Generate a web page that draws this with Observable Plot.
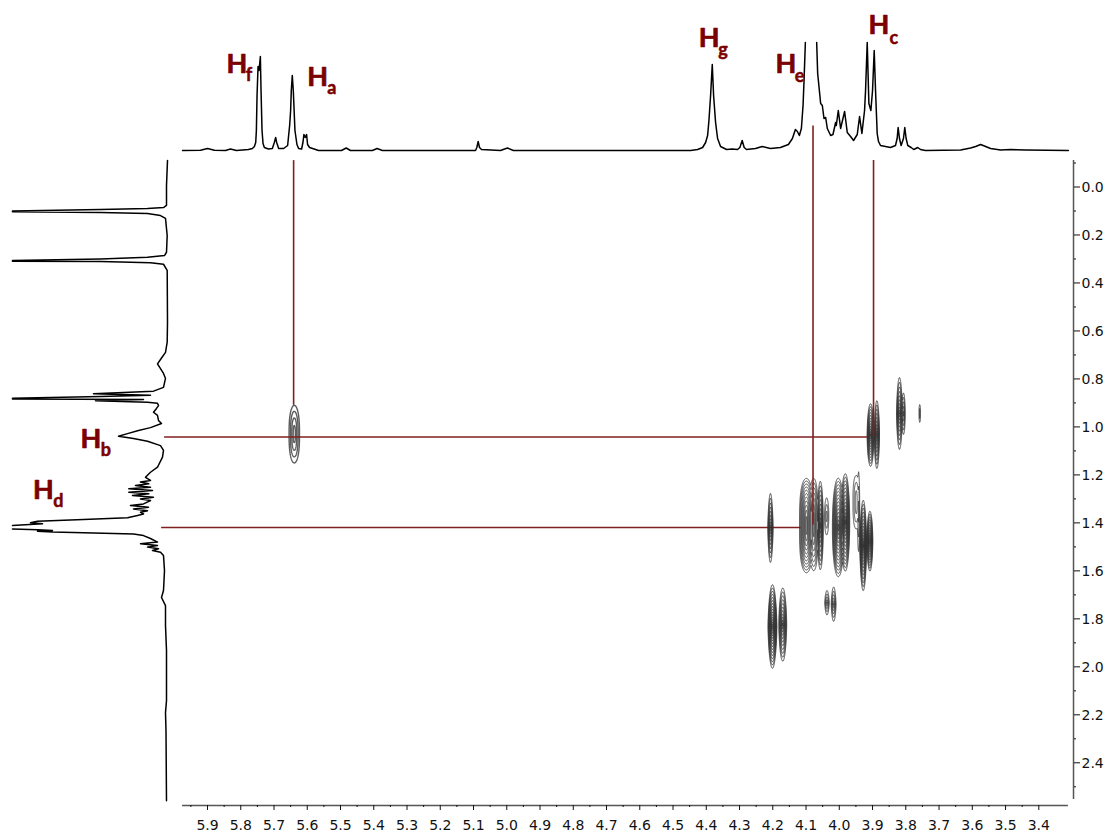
<!DOCTYPE html>
<html><head><meta charset="utf-8">
<script src="https://cdn.jsdelivr.net/npm/d3@7"></script>
<script src="https://cdn.jsdelivr.net/npm/@observablehq/plot@0.6"></script>
<style>html,body{margin:0;padding:0;background:#fff}svg{display:block}</style>
</head><body><div id="chart"></div>
<script>
// F2 projection (top trace): [ppm, intensity]
const topTraceA = [[5.975,0],[5.921,.3],[5.9,2],[5.879,.3],[5.846,0],[5.831,1.5],[5.813,0],[5.777,1],[5.765,2],[5.759,4],[5.755,8],[5.753,20],[5.751,55],[5.748,84],[5.745,80],[5.741,94],[5.739,60],[5.736,20],[5.733,7],[5.729,3],[5.717,1.5],[5.705,2],[5.699,8],[5.695,13],[5.692,8],[5.686,2],[5.671,2],[5.659,5],[5.653,25],[5.65,40],[5.648,60],[5.645,75],[5.642,60],[5.637,20],[5.631,6],[5.626,2],[5.617,1.5],[5.613,8],[5.61,16],[5.606,13],[5.602,16],[5.599,6],[5.593,3],[5.584,2],[5.566,0],[5.497,0],[5.483,2.5],[5.47,0],[5.404,0],[5.39,2],[5.374,0],[5.094,0],[5.09,3],[5.086,9],[5.082,3],[5.076,1],[5.019,0],[4.998,2.5],[4.98,0],[4.447,0],[4.426,1],[4.411,3],[4.402,8],[4.396,15],[4.392,30],[4.387,55],[4.382,86],[4.378,55],[4.372,28],[4.366,12],[4.357,4],[4.339,1],[4.322,1.5],[4.306,1],[4.299,3],[4.292,10],[4.286,3],[4.279,1],[4.252,2],[4.232,4],[4.207,2],[4.177,3],[4.153,6],[4.141,12],[4.132,21],[4.126,19],[4.12,15],[4.114,22],[4.109,45],[4.106,70],[4.102,108]];
const topTraceB = [[4.068,108],[4.065,77],[4.056,47],[4.051,45],[4.046,32],[4.041,33],[4.036,22],[4.026,15],[4.019,16],[4.011,28],[4.009,25],[4.003,40],[3.996,22],[3.984,39],[3.976,18],[3.966,14],[3.957,10],[3.946,16],[3.939,34],[3.932,17],[3.924,40],[3.921,60],[3.916,108],[3.911,47],[3.905,40],[3.9,60],[3.895,100],[3.891,60],[3.886,17],[3.882,9],[3.876,5],[3.846,3],[3.831,5],[3.826,12],[3.823,23],[3.819,12],[3.814,5],[3.807,12],[3.803,23],[3.799,12],[3.794,5],[3.784,3],[3.776,1],[3.764,3],[3.756,1],[3.741,0],[3.635,.5],[3.605,2.5],[3.59,4],[3.575,6],[3.56,4],[3.545,2],[3.515,.5],[3.485,1],[3.44,.5],[3.311,0]];
// F1 projection (left trace): [ppm, intensity]
const leftTraceA = [[-.11,0],[-.006,1],[.077,1],[.085,3.7],[.09,20],[.094,67],[.1,155],[.103,155],[.106,67],[.11,20],[.119,7],[.131,2],[.202,.3],[.272,1],[.286,3],[.293,20],[.3,67],[.306,155],[.309,155],[.311,67],[.316,17],[.322,4],[.348,.3],[.564,0],[.647,.3],[.689,2],[.715,6.3],[.737,10],[.757,7],[.777,4],[.798,2],[.835,4],[.851,14],[.862,74],[.868,17],[.873,67],[.88,155],[.884,155],[.886,24],[.891,72],[.897,20],[.901,10],[.911,9],[.923,11],[.939,14],[.952,10],[.973,9],[.986,6],[1.003,17],[1.015,29],[1.028,40],[1.039,49],[1.048,34],[1.06,20],[1.078,7],[1.098,4],[1.126,5],[1.168,10],[1.189,17],[1.21,22],[1.223,17],[1.23,27],[1.237,18.7],[1.244,32],[1.251,17],[1.258,38.7],[1.265,15],[1.272,38.7],[1.279,18.7],[1.286,35],[1.293,14],[1.3,27],[1.307,17],[1.321,24],[1.328,37],[1.335,19],[1.342,34],[1.349,20],[1.356,27],[1.363,24],[1.37,31],[1.379,40],[1.386,84],[1.393,130],[1.399,137],[1.404,125],[1.411,155]];
const leftTraceB = [[1.425,155],[1.429,130],[1.432,115],[1.435,130],[1.438,115],[1.441,84],[1.446,34],[1.453,24],[1.465,17],[1.48,10],[1.487,27],[1.494,10],[1.501,20],[1.508,9],[1.515,15],[1.522,7],[1.536,4],[1.599,3],[1.682,4],[1.711,6],[1.745,2],[1.828,2],[1.932,1],[2.141,1],[2.191,2],[2.266,1.5],[2.558,1]];
// Cross peaks: [F2 ppm, F1 ppm, half width F2, half height F1, contour levels, tip shape]
const crossPeaksMain = [[4.207,1.421,.0081,.148,10,1.45],[4.201,1.832,.0135,.177,16,1.6],[4.17,1.824,.012,.156,11,1.7],[4.037,1.733,.0069,.054,5,1.45],[4.017,1.739,.0075,.075,6,1.45],[4.099,1.411,.021,.199,11,3.2],[4.077,1.407,.0135,.196,7,3.2],[4.057,1.411,.009,.188,10,2],[4.038,1.373,.0069,.083,3,2],[4.003,1.419,.018,.208,14,2.2],[3.982,1.398,.0135,.206,14,2],[3.949,1.314,.0105,.117,3,3],[3.942,1.353,.0036,.179,3,2],[3.928,1.494,.0105,.192,15,1.5],[3.908,1.476,.009,.127,12,1.8],[3.906,1.034,.0105,.133,12,1.8],[3.887,1.032,.0081,.145,10,1.6],[3.819,.944,.009,.154,10,1.5],[3.807,.945,.0054,.09,5,2],[3.758,.944,.0024,.04,2,3]];
const crossPeaksAlkene = [[5.639,1.03,.0165,.125,4,2.6]];
const contourLevels = d3.range(0,20).map(d=>.01+d*.05);
// Correlation guide lines
const guideVertical = [[5.641,-.11,.91],[4.079,-.254,1.41],[3.897,-.11,1.04]];
const guideHorizontal1 = [[1.042,6.029,3.915]];
const guideHorizontal2 = [[1.419,6.038,4.115]];
// Peak labels
const labelMain = ["H","H","H","H","H","H","H"];
const labelSub = ["f","a","g","e","c","b","d"];
const labelX = [5.843,5.6,4.423,4.192,3.912,6.282,6.425];
const labelY = [-.474,-.423,-.583,-.476,-.636,1.087,1.3];
const subX = [5.785,5.54,4.364,4.134,3.849,6.221,6.364];
const subY = [-.44,-.388,-.545,-.437,-.597,1.123,1.335];
// Ticks
const xMajor = d3.range(34,60).map(d=>d/10);
const xMinor = d3.range(34,60).map(d=>d/10+.05);
const yMajor = d3.range(0,13).map(d=>d/5);
const yMinor = d3.range(-1,13).map(d=>d/5+.1);

const topBase=-.1521, topGain=1/239.9, leftBase=6.0203, leftGain=1/332.5;
const toTop = d=>topBase-d[1]*topGain;
const toLeft = d=>leftBase+d[1]*leftGain;
const field = peaks => (x,y)=>{
  let best=-1;
  for(const [cx,cy,w,h,n,p] of peaks){
    const u=(x-cx)/w, v=Math.abs((y-cy)/h);
    const r=Math.sqrt(u*u+Math.pow(v,p));
    const val=n*.05*(1-r);
    if(val>best) best=val;
  }
  return best;
};
const maroon="#7f1f1f", textMaroon="#7b0000", contourInk="#333";
const plot = Plot.plot({
  width:1109,height:837,marginTop:0,marginLeft:0,marginRight:36,marginBottom:32,
  style:{background:"#fff",color:"#111",fontFamily:"DejaVu Sans"},
  x:{domain:[5.9,3.4],range:[207,1038.3],axis:null},
  y:{domain:[0,2.4],range:[186.5,762.3],axis:null},
  marks:[
    Plot.ruleY(guideHorizontal2,{y:d=>d[0],x1:d=>d[1],x2:d=>d[2],stroke:maroon,strokeWidth:1.6}),
    Plot.contour({x1:4.27,x2:3.72,y1:.75,y2:2.05,value:field(crossPeaksMain),thresholds:contourLevels,pixelSize:.5,stroke:contourInk,strokeWidth:1,strokeOpacity:.85}),
    Plot.contour({x1:5.68,x2:5.6,y1:.85,y2:1.2,value:field(crossPeaksAlkene),thresholds:contourLevels,pixelSize:.5,stroke:contourInk,strokeWidth:1.4,strokeOpacity:.8}),
    Plot.ruleX(guideVertical,{x:d=>d[0],y1:d=>d[1],y2:d=>d[2],stroke:maroon,strokeWidth:1.6}),
    Plot.ruleY(guideHorizontal1,{y:d=>d[0],x1:d=>d[1],x2:d=>d[2],stroke:maroon,strokeWidth:1.6}),
    Plot.line(topTraceA,{x:d=>d[0],y:toTop,stroke:"#000",strokeWidth:1.5}),
    Plot.line(topTraceB,{x:d=>d[0],y:toTop,stroke:"#000",strokeWidth:1.5}),
    Plot.line(leftTraceA,{x:toLeft,y:d=>d[0],stroke:"#000",strokeWidth:1.5}),
    Plot.line(leftTraceB,{x:toLeft,y:d=>d[0],stroke:"#000",strokeWidth:1.5}),
    Plot.text(labelMain,{x:(d,i)=>labelX[i],y:(d,i)=>labelY[i],text:d=>d,textAnchor:"start",lineAnchor:"bottom",fontFamily:"Lato",fontWeight:"bold",fontSize:27,fill:textMaroon,stroke:textMaroon,strokeWidth:.7}),
    Plot.text(labelSub,{x:(d,i)=>subX[i],y:(d,i)=>subY[i],text:d=>d,textAnchor:"start",lineAnchor:"bottom",fontFamily:"Lato",fontWeight:"bold",fontSize:18,fill:textMaroon,stroke:textMaroon,strokeWidth:.5}),
    Plot.ruleY([2.578],{x1:5.975,x2:3.311,stroke:"#555",strokeWidth:1.5}),
    Plot.ruleX([3.2956],{y1:-.11,y2:2.553,stroke:"#555",strokeWidth:1.5}),
    Plot.axisX({anchor:"bottom",ticks:xMajor,tickSize:5,tickPadding:10,tickFormat:d=>d.toFixed(1),fontSize:14,label:null,textOverlap:null}),
    Plot.axisX({anchor:"bottom",ticks:xMinor,tickSize:2,text:null,label:null}),
    Plot.axisY({anchor:"right",ticks:yMajor,tickSize:6,text:null,label:null}),
    Plot.axisY({anchor:"right",ticks:yMajor,tickSize:0,tickPadding:8,dy:1,tickFormat:d=>d.toFixed(1),fontSize:14,label:null}),
    Plot.axisY({anchor:"right",ticks:yMinor,tickSize:2,text:null,label:null})
  ]
});
document.getElementById("chart").append(plot);
</script></body></html>
